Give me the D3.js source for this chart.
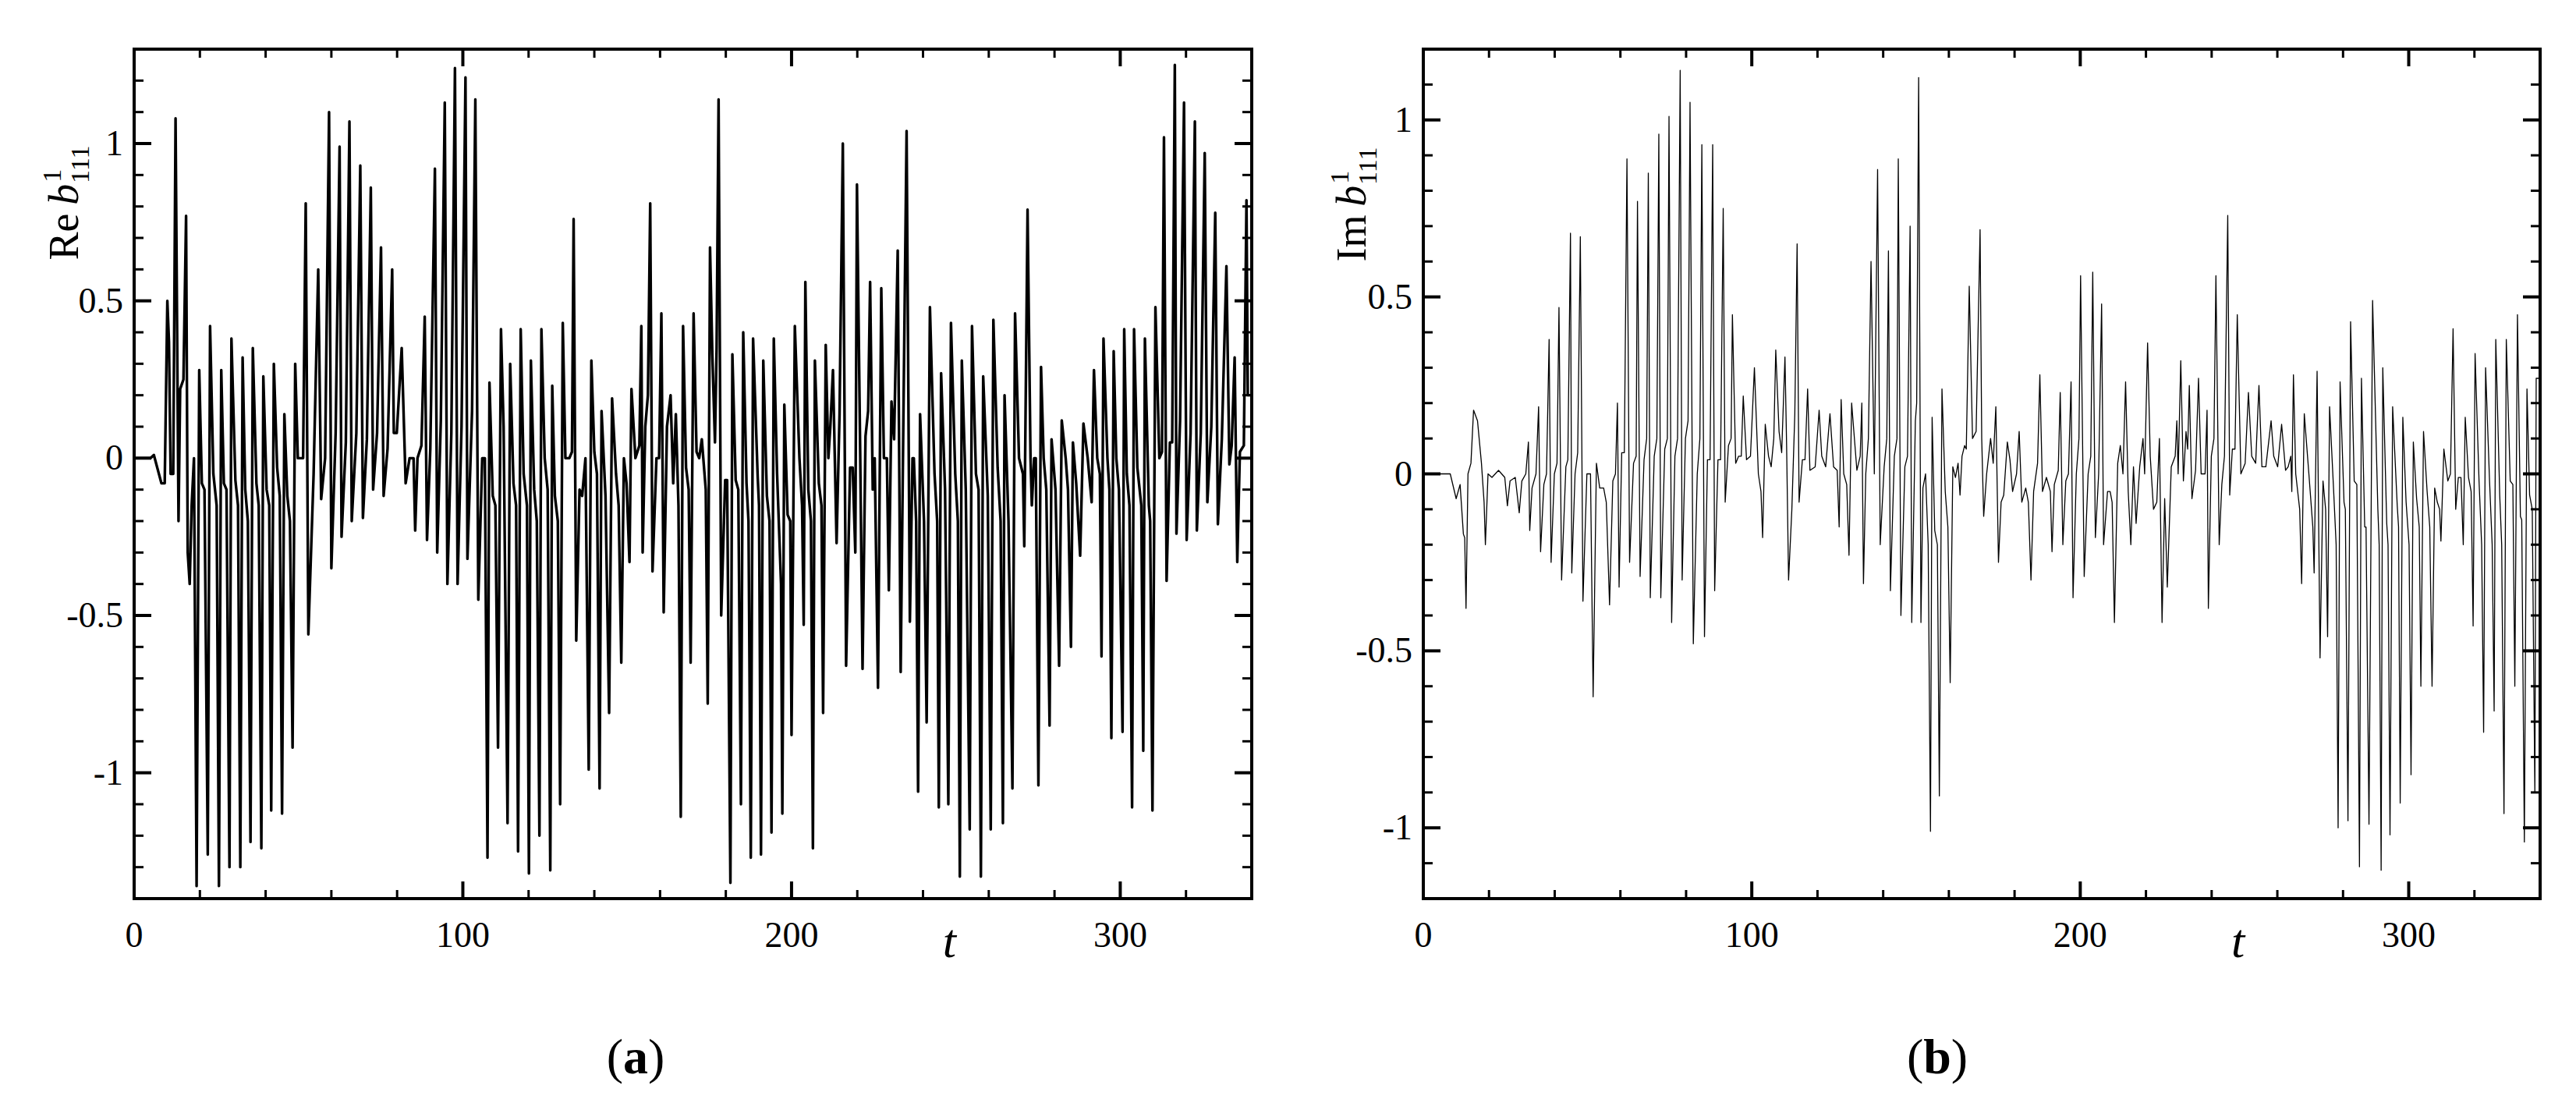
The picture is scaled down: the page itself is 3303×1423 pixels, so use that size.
<!DOCTYPE html>
<html><head><meta charset="utf-8">
<script src="https://cdn.jsdelivr.net/npm/d3@7"></script>
<style>html,body{margin:0;padding:0;background:#fff;}svg{display:block;}</style>
</head><body>
<script>
// ---- data ----
const tA = [0,5,6,8.3,9.3,10.1,10.6,11.1,11.9,12.6,13.5,14,15,15.8,16.3,16.9,17.5,18.2,19,19.8,20.6,21.4,22.4,23.1,24.1,25.1,25.8,26.5,27.3,28.1,29,29.6,30.8,31.6,32.3,33,33.8,34.6,35.4,36.1,37.2,37.9,38.7,39.3,40.3,41.1,41.7,42.5,43.5,44.3,45,45.7,46.6,47.4,48.2,49,49.8,51.4,52.2,53,54.6,56,56.9,58.1,59.3,60,61.3,62.5,63.1,64.4,65.5,66.2,67.6,68.8,69.6,70.8,72,72.7,73.9,75.1,75.9,77.1,78.5,79,79.9,81.4,82.6,83.8,85,85.5,86.2,87.4,88.4,89.1,90.1,91.5,92.2,93.3,94.5,95.3,96.5,97.6,98.4,99.6,100.8,101.4,102.8,103.8,104.7,105.9,106.7,107.5,108.1,109.1,109.9,110.7,111.6,112.4,113.6,114.4,115.4,116.2,116.8,117.6,118.5,119.5,120.1,120.7,121.7,122.5,123.3,123.9,124.9,125.8,126.6,127.2,128,128.9,129.6,130.4,131.2,132.4,133.2,133.7,134.5,135.5,136.3,137.3,138.3,139.1,140,140.8,141.6,142.2,143.4,144.5,145.4,146.6,147.4,148.2,149,149.8,150.7,151.3,152.5,153.7,154.3,154.7,155.5,156.3,157,157.7,158.9,159.7,160.4,161.1,162.1,163.2,164,164.8,165.6,166.3,167,167.9,168.7,169.3,170.2,171.1,171.9,172.7,173.9,174.5,175.2,175.9,176.7,177.2,177.8,178.6,179.8,180.4,181.4,182,183,183.8,184.6,185.3,186.3,186.9,187.6,188.3,189.7,190.1,190.7,191.4,192.5,193.3,193.9,194.6,195.6,196.8,197.2,197.8,198.8,199.6,200,201,202.4,203.2,203.7,204.2,205.1,205.9,206.5,207.1,208.3,209.1,209.6,210.4,211.2,211.8,212.6,213.7,214.6,215.6,216.6,217.8,218.6,219.4,219.9,220.9,221.6,222.5,223.3,223.9,224.7,225.3,226.3,227.3,228.1,229,229.6,230.4,231.2,232.3,233.2,234,235,236,236.8,237.2,237.9,238.5,239.1,240.3,241.1,242.1,243.5,244.3,244.8,245.5,246.7,247.7,248.5,249.8,250.6,251.2,251.8,253,254.2,254.9,256.1,256.9,257.6,258.3,259.7,260.6,261.4,262.7,263.6,264.3,264.8,266,267.2,268,269.2,270.4,270.8,271.8,272.7,273.1,273.8,274.3,275.1,275.9,276.7,277.5,278.5,279.1,280.3,281.4,282.2,283.4,284.1,285,285.6,286.6,287.8,288.8,290.1,291.3,292,293,293.8,294.3,294.9,296.1,296.7,297.3,298,298.8,299.6,300.7,301.2,302,302.8,303.6,304.2,305.2,306.4,307,307.5,308.7,309.1,309.8,310.7,311.9,312.7,313.3,314.1,315.1,315.8,316.6,317.1,318.2,319.4,320.2,321.4,322.7,323.3,324.5,325.7,326.5,327.7,328.9,329.7,330.9,332.3,333.2,333.9,334.8,335.6,336.4,337.6,338.4,338.8,340];
const reA = [0,0,0.01,-0.08,-0.08,0.5,0.37,-0.05,-0.05,1.08,-0.2,0.22,0.25,0.77,-0.3,-0.4,-0.15,0,-1.36,0.28,-0.08,-0.1,-1.26,0.42,-0.05,-0.15,-1.36,0.28,-0.08,-0.1,-1.3,0.38,-0.07,-0.15,-1.3,0.32,-0.1,-0.2,-1.22,0.35,-0.08,-0.15,-1.24,0.26,-0.1,-0.15,-1.12,0.3,-0.03,-0.12,-1.13,0.14,-0.12,-0.2,-0.92,0.3,0,0,0.81,-0.56,-0.05,0.6,-0.13,0,1.1,-0.35,0.08,0.99,-0.25,0.05,1.07,-0.2,0.08,0.93,-0.19,0.06,0.86,-0.1,0.08,0.67,-0.12,0.03,0.6,0.08,0.08,0.35,-0.08,0,0,-0.23,0,0.04,0.45,-0.26,0.03,0.92,-0.3,0.12,1.13,-0.4,0.08,1.24,-0.4,0.1,1.21,-0.32,0.15,1.14,-0.45,0,0,-1.27,0.24,-0.12,-0.15,-0.92,0.41,0.1,-1.16,0.3,-0.08,-0.15,-1.25,0.41,-0.05,-0.15,-1.32,0.31,-0.1,-0.2,-1.2,0.41,0,-0.1,-1.31,0.23,-0.12,-0.2,-1.1,0.43,0,0,0.02,0.76,-0.58,-0.1,-0.12,0,-0.99,0.31,0.02,-0.05,-1.05,0.15,-0.12,-0.81,0.19,-0.05,-0.15,-0.65,0,-0.08,-0.33,0.22,0,0.04,0.42,-0.3,0.1,0.2,0.81,-0.36,0,0,0.46,-0.49,0.1,0.2,-0.08,0.14,-0.15,-1.14,0.42,-0.03,-0.1,-0.65,0.46,0.02,0,0.06,-0.1,-0.78,0.67,0.33,0.05,0.35,1.14,-0.5,-0.07,-0.07,-1.35,0.33,-0.07,-0.1,-1.1,0.4,-0.08,-0.2,-1.27,0.38,-0.06,-0.15,-1.26,0.31,-0.12,-0.2,-1.19,0.38,-0.05,-0.4,-1.13,0.17,-0.18,-0.2,-0.88,0.42,0,-0.15,-0.53,0.56,-0.1,-0.2,-1.24,0.31,-0.08,-0.15,-0.81,0.36,0,0.1,0.28,-0.27,0.14,1.0,-0.66,-0.03,-0.03,-0.3,0.87,0,-0.67,0.07,0.15,0.56,-0.1,0,-0.73,0.54,0,0,-0.42,0.18,0.06,0.66,-0.68,0.1,1.04,-0.52,0,0,-0.2,-1.06,0.14,-0.2,-0.84,0.48,-0.05,-0.2,-1.11,0.27,-0.1,-1.1,0.43,-0.05,-0.2,-1.33,0.31,-0.1,-1.18,0.42,-0.05,-0.1,-1.33,0.26,-0.12,-1.18,0.44,-0.03,-0.2,-1.16,0.2,-0.2,-1.05,0.46,0,-0.05,-0.28,0.79,0,-0.15,0,0,-1.04,0.29,0,-0.1,-0.85,0.06,-0.1,-0.66,0.12,0,-0.1,-0.6,0.05,-0.08,-0.31,0.11,0,-0.14,0.28,0,-0.05,-0.63,0.38,0,-0.1,-0.89,0.34,0,-0.1,-0.87,0.41,-0.05,-0.15,-1.11,0.41,-0.03,-0.15,-0.93,0.38,-0.15,-0.2,-1.12,0.48,0,0.02,1.02,-0.39,0.05,0.05,1.25,-0.24,0.12,1.13,-0.26,0.08,1.07,-0.23,0.08,0.97,-0.14,0.1,0.78,-0.21,0.06,0.61,-0.02,0.04,0.32,-0.33,0.02,0.04,0.82,0.2,0.2];

const tB = [0,5,8.2,10,11.2,12.2,12.6,13,13.6,14.5,15.3,16.5,17.7,18.5,18.9,19.7,20.9,22.9,24.8,25.6,26.4,28,29.2,30,31.2,32,32.4,33.1,34.3,35.1,35.7,36.7,37.5,38.3,38.9,39.9,40.7,41.3,42.1,43.4,44,44.8,45.2,46.2,47,47.8,48.6,49.8,50.9,51.7,52.7,53.7,54.9,55.7,56.7,57.7,58.5,59.1,59.6,60.4,61.2,62,62.8,64,64.8,65.2,66,67.2,68,68.5,69.1,70.3,71.1,71.7,72.3,73.5,74.3,74.8,75.6,76.6,77.4,78.2,78.8,79.8,80.6,81.2,82.2,83.4,84.2,84.8,85.6,86.5,87.3,88.1,88.7,89.7,90.5,91.3,91.9,92.9,93.7,94.1,95.1,96,96.8,97.4,98.4,99.6,100.8,102,102.8,103.3,104.1,105.1,105.9,106.7,107.3,108.3,109.1,110.1,110.6,111.2,112.2,113.1,113.8,114.4,115.4,116.2,117,117.7,119.3,120.5,121.3,122.5,123.8,124.9,126,126.6,127.2,128,128.9,129.6,130.4,132,133,133.5,134,134.7,135.5,136.3,137.3,138.3,139.1,140.3,141.1,141.6,142.2,143.4,144.2,144.6,145.4,146.6,147.4,148.2,148.7,149.8,150.2,150.8,151.5,152.1,152.9,153.7,154.4,154.9,155.7,156.5,157.1,157.9,158.9,159.7,160.4,161.2,162,162.8,163.4,164,164.8,165.3,166.2,167.2,168.3,169.5,170,170.6,171.5,172.7,173.5,174.3,175.1,175.9,176.7,177.8,178.6,179.4,180.6,181.4,182.2,183.4,184.2,185,185.8,187,187.7,188.5,189.7,190.9,191.4,192.1,193.3,193.9,194.7,195.6,196.4,197.2,197.8,198.8,199.6,200.1,201.2,202.4,203.2,203.8,204.6,205.6,206.5,207.1,208.3,209.1,209.7,210.4,211.4,212.2,213,213.8,214.6,215.4,216.2,217,218.1,219.1,219.6,220.5,221.3,222.3,223.3,224.1,224.9,225.7,226.5,227.7,228.9,229.4,229.8,230.6,231.4,232.2,232.7,233.2,234,235.1,236,236.8,238,238.6,239,239.9,240.7,241.3,242.3,243.1,243.9,244.9,245.5,246.3,247.1,247.8,248.9,250.2,251.2,252.2,253.4,254.4,255.3,256.5,258.1,258.9,260.1,261.3,262.5,263.3,264.1,264.4,264.9,265.6,266.8,267.4,268.2,269.6,270.8,271.2,272.1,273,273.9,274.7,275.3,275.9,277.1,277.9,278.5,279.1,280.3,280.7,281.5,282.3,283.4,284.2,285,285.6,286.6,287,287.9,289,290.6,291,291.6,292.1,293.3,293.7,294.3,295.1,296.5,296.9,297.4,298.2,299.2,300.1,300.7,301.4,302.4,303.2,303.7,304.5,305.6,306.4,307.1,307.9,308.7,309.4,309.8,310.7,311.9,312.7,313.5,314.3,315.1,315.9,316.6,317.2,318.2,319,319.6,320.2,321.4,322.2,322.8,323.4,324.6,325.4,326,326.5,327.7,328.3,329,329.7,330.9,331.7,332.3,333.1,334,334.4,335.2,336,336.8,337.6,338.4,338.8,340];
const imB = [0,0,0,-0.07,-0.03,-0.17,-0.18,-0.38,0,0.03,0.18,0.15,0.03,-0.08,-0.2,0,-0.01,0.01,-0.01,-0.09,-0.02,-0.01,-0.11,-0.02,0,0.09,-0.16,-0.04,0,0.19,-0.22,-0.03,0,0.38,-0.25,0,0.03,0.47,-0.3,0.02,0.04,0.68,-0.28,0,0.06,0.67,-0.36,0,0,-0.63,0.03,-0.04,-0.04,-0.08,-0.37,-0.02,0,0.2,-0.32,0.06,0.06,0.89,-0.25,0.03,0.05,0.77,-0.29,0.04,0.1,0.85,-0.35,0.05,0.1,0.96,-0.35,0.07,0.1,1.01,-0.42,0.05,0.1,1.14,-0.3,0.1,0.15,1.05,-0.48,0,0.1,0.93,-0.46,0.04,0.04,0.93,-0.33,0.04,0.04,0.75,-0.08,0.08,0.1,0.45,0.03,0.05,0.05,0.22,0.04,0.05,0.3,0,-0.05,-0.18,0.14,0.05,0.02,0.1,0.35,0.12,0.06,0.33,0.08,-0.3,-0.1,0.17,0.65,-0.08,0.04,0.04,0.24,0.01,0.02,0.18,0.05,0.02,0.17,0.02,0.01,-0.15,0.21,0,-0.03,-0.23,0.2,0.01,0.05,0.2,-0.31,0,0.1,0.6,0,0.86,-0.2,0.02,0.1,0.63,-0.33,0.05,0.1,0.89,-0.4,0.02,0.05,0.7,-0.42,0.15,0.2,1.12,-0.42,-0.04,0,-0.2,-1.01,0.16,-0.16,-0.2,-0.91,0.24,-0.05,-0.15,-0.59,0.02,-0.01,0.03,-0.06,0.05,0.08,0.07,0.53,0.1,0.12,0.69,0.1,-0.12,0,0.1,0.03,0.19,-0.25,-0.08,-0.06,0.09,0.04,-0.05,0,0.12,-0.08,-0.04,-0.08,-0.3,-0.05,0.03,0.28,-0.05,-0.01,-0.05,-0.22,-0.03,0.01,0.23,-0.2,-0.02,0,0.26,-0.35,0,0.1,0.56,-0.29,0,0.05,0.57,-0.18,0,0.48,-0.2,-0.05,-0.05,-0.08,-0.42,0.03,0.08,0,0.26,-0.05,-0.2,0.02,-0.14,0.02,0.1,0,0.37,0.05,-0.1,-0.08,0.1,-0.42,-0.07,-0.32,0.02,0.05,0.15,0,0.32,-0.02,0.12,0.07,0.25,-0.07,0.01,0.27,0,0,0.18,-0.38,0.05,0.1,0.56,-0.2,-0.03,0.05,0.73,-0.06,0.07,0.07,0.45,0,0.03,0.23,0.05,0.03,0.25,0.02,0.02,0.15,0.05,0.02,0.14,0.01,0.02,0.05,-0.05,0.28,0,-0.1,-0.31,0.17,0,-0.15,-0.28,0.29,-0.52,-0.02,-0.1,-0.46,0.19,-0.04,-0.2,-1.0,0.26,-0.08,-0.1,-0.98,0.43,-0.02,-0.03,-1.11,0.27,-0.15,-0.15,-0.99,0.49,-0.1,-0.2,-1.12,0.3,-0.14,-0.2,-1.02,0.19,-0.09,-0.15,-0.93,0.16,-0.08,-0.2,-0.85,0.09,-0.07,-0.15,-0.6,0.12,-0.05,-0.15,-0.6,-0.04,-0.08,-0.1,-0.19,0.07,-0.02,0,0.41,-0.1,-0.01,-0.01,-0.2,0.16,-0.01,-0.05,-0.43,0.34,-0.02,-0.2,-0.73,0.3,-0.02,-0.2,-0.67,0.38,-0.06,-0.2,-0.96,0.38,-0.02,-0.03,-0.6,0.45,-0.12,-0.13,-1.04,0.24,-0.06,-0.1,-0.9,0.27,0.27];

const xTicks = [0,100,200,300];
const yTicksA = [-1,-0.5,0,0.5,1];
const yTicksB = [-1,-0.5,0,0.5,1];
const panelLetters = ["a","b"];
const yLabelPrefix = ["Re","Im"];

// ---- drawing ----
const W = 3303, H = 1423;
const svg = d3.select("body").append("svg").attr("width", W).attr("height", H);
const serif = "'Liberation Serif','DejaVu Serif',serif";

function panel(cfg){
  const {left,right,top,bottom,ydom,ticksY,t,v,lw,label,letter,letterX} = cfg;
  const x = d3.scaleLinear().domain([0,340]).range([left,right]);
  const y = d3.scaleLinear().domain(ydom).range([bottom,top]);
  const g = svg.append("g");
  const cid = "clip"+letter;
  svg.append("clipPath").attr("id",cid).append("rect")
    .attr("x",left).attr("y",top).attr("width",right-left).attr("height",bottom-top);
  const data = t.map((d,i)=>[d,v[i]]);
  g.append("path").datum(data).attr("clip-path",`url(#${cid})`)
    .attr("fill","none").attr("stroke","#000").attr("stroke-width",lw)
    .attr("stroke-linejoin","round")
    .attr("d", d3.line().x(d=>x(d[0])).y(d=>y(d[1])));
  g.append("rect").attr("x",left).attr("y",top).attr("width",right-left).attr("height",bottom-top)
    .attr("fill","none").attr("stroke","#000").attr("stroke-width",4);
  const xMinor = d3.range(0,341,20);
  xMinor.forEach(tv=>{
    const major = tv%100===0;
    const L = major?22:11;
    const px = x(tv);
    if(tv===0) return;
    g.append("line").attr("x1",px).attr("x2",px).attr("y1",bottom).attr("y2",bottom-L).attr("stroke","#000").attr("stroke-width",major?4:3);
    g.append("line").attr("x1",px).attr("x2",px).attr("y1",top).attr("y2",top+L).attr("stroke","#000").attr("stroke-width",major?4:3);
  });
  const n0 = Math.ceil(ydom[0]*10), n1 = Math.floor(ydom[1]*10);
  for(let k=n0;k<=n1;k++){
    const yv=k/10, major = (k%5===0);
    const L = major?22:12, py=y(yv);
    g.append("line").attr("x1",left).attr("x2",left+L).attr("y1",py).attr("y2",py).attr("stroke","#000").attr("stroke-width",major?4:3);
    g.append("line").attr("x1",right).attr("x2",right-L).attr("y1",py).attr("y2",py).attr("stroke","#000").attr("stroke-width",major?4:3);
  }
  xTicks.forEach(tv=>{
    g.append("text").attr("x",x(tv)).attr("y",bottom+62).attr("text-anchor","middle")
      .attr("font-family",serif).attr("font-size",46).text(String(tv));
  });
  ticksY.forEach(yv=>{
    g.append("text").attr("x",left-14).attr("y",y(yv)+15).attr("text-anchor","end")
      .attr("font-family",serif).attr("font-size",46).text(String(yv).replace("−","-"));
  });
  const yt = g.append("text").attr("transform",`translate(${left-(letter==="a"?72:74)},${(letter==="a"?260:262)}) rotate(-90)`)
    .attr("text-anchor","middle").attr("font-family",serif).attr("font-size",54);
  yt.append("tspan").text(label+"\u2009");
  yt.append("tspan").attr("font-style","italic").text("b");
  yt.append("tspan").attr("font-size",34).attr("dy",-22).attr("dx",2).text("1");
  yt.append("tspan").attr("font-size",34).attr("dy",36).attr("dx",-17).text("111");
  g.append("text").attr("x",x(248)).attr("y",bottom+75).attr("text-anchor","middle")
    .attr("font-family",serif).attr("font-style","italic").attr("font-size",62).text("t");
  const pl = g.append("text").attr("x",letterX).attr("y",1376).attr("text-anchor","middle")
    .attr("font-family",serif).attr("font-size",64);
  pl.append("tspan").text("(");
  pl.append("tspan").attr("font-weight","bold").text(letter);
  pl.append("tspan").text(")");
}

panel({left:172,right:1605,top:63,bottom:1152,ydom:[-1.4,1.3],ticksY:yTicksA,t:tA,v:reA,lw:3.4,label:yLabelPrefix[0],letter:panelLetters[0],letterX:815});
panel({left:1825,right:3257,top:63,bottom:1152,ydom:[-1.2,1.2],ticksY:yTicksB,t:tB,v:imB,lw:1.3,label:yLabelPrefix[1],letter:panelLetters[1],letterX:2484});
</script>
</body></html>
